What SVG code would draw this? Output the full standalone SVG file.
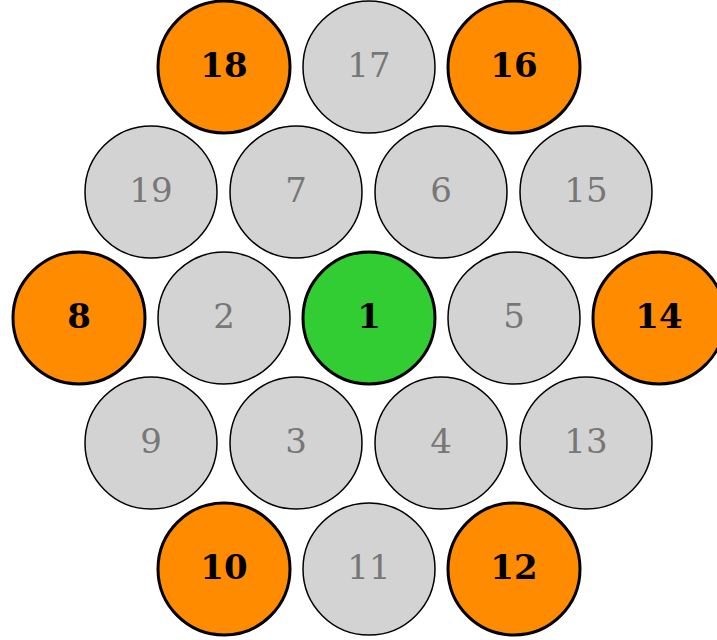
<svg xmlns="http://www.w3.org/2000/svg" width="717" height="640" viewBox="0 0 717 640">
<style>
.n circle{stroke:#000}
.g circle{fill:#d3d3d3;stroke-width:1.5}
.o circle{fill:#ff8c00;stroke-width:3}
.c circle{fill:#32cd32;stroke-width:3}
text{font-family:"DejaVu Serif",serif;font-size:34px;text-anchor:middle}
.g text{fill:#777}
.o text,.c text{font-weight:bold;fill:#000}
</style>
<rect width="717" height="640" fill="#fff"/>
<g id="n18" class="n o"><circle cx="224" cy="67" r="66"/><text x="224" y="77">18</text></g>
<g id="n17" class="n g"><circle cx="369" cy="67" r="66"/><text x="369" y="77">17</text></g>
<g id="n16" class="n o"><circle cx="514" cy="67" r="66"/><text x="514" y="77">16</text></g>
<g id="n19" class="n g"><circle cx="151" cy="192" r="66"/><text x="151" y="202">19</text></g>
<g id="n7" class="n g"><circle cx="296" cy="192" r="66"/><text x="296" y="202">7</text></g>
<g id="n6" class="n g"><circle cx="441" cy="192" r="66"/><text x="441" y="202">6</text></g>
<g id="n15" class="n g"><circle cx="586" cy="192" r="66"/><text x="586" y="202">15</text></g>
<g id="n8" class="n o"><circle cx="79" cy="318" r="66"/><text x="79" y="328">8</text></g>
<g id="n2" class="n g"><circle cx="224" cy="318" r="66"/><text x="224" y="328">2</text></g>
<g id="n1" class="n c"><circle cx="369" cy="318" r="66"/><text x="369" y="328">1</text></g>
<g id="n5" class="n g"><circle cx="514" cy="318" r="66"/><text x="514" y="328">5</text></g>
<g id="n14" class="n o"><circle cx="659" cy="318" r="66"/><text x="659" y="328">14</text></g>
<g id="n9" class="n g"><circle cx="151" cy="443" r="66"/><text x="151" y="453">9</text></g>
<g id="n3" class="n g"><circle cx="296" cy="443" r="66"/><text x="296" y="453">3</text></g>
<g id="n4" class="n g"><circle cx="441" cy="443" r="66"/><text x="441" y="453">4</text></g>
<g id="n13" class="n g"><circle cx="586" cy="443" r="66"/><text x="586" y="453">13</text></g>
<g id="n10" class="n o"><circle cx="224" cy="569" r="66"/><text x="224" y="579">10</text></g>
<g id="n11" class="n g"><circle cx="369" cy="569" r="66"/><text x="369" y="579">11</text></g>
<g id="n12" class="n o"><circle cx="514" cy="569" r="66"/><text x="514" y="579">12</text></g>
<g id="connectors"></g>
</svg>
